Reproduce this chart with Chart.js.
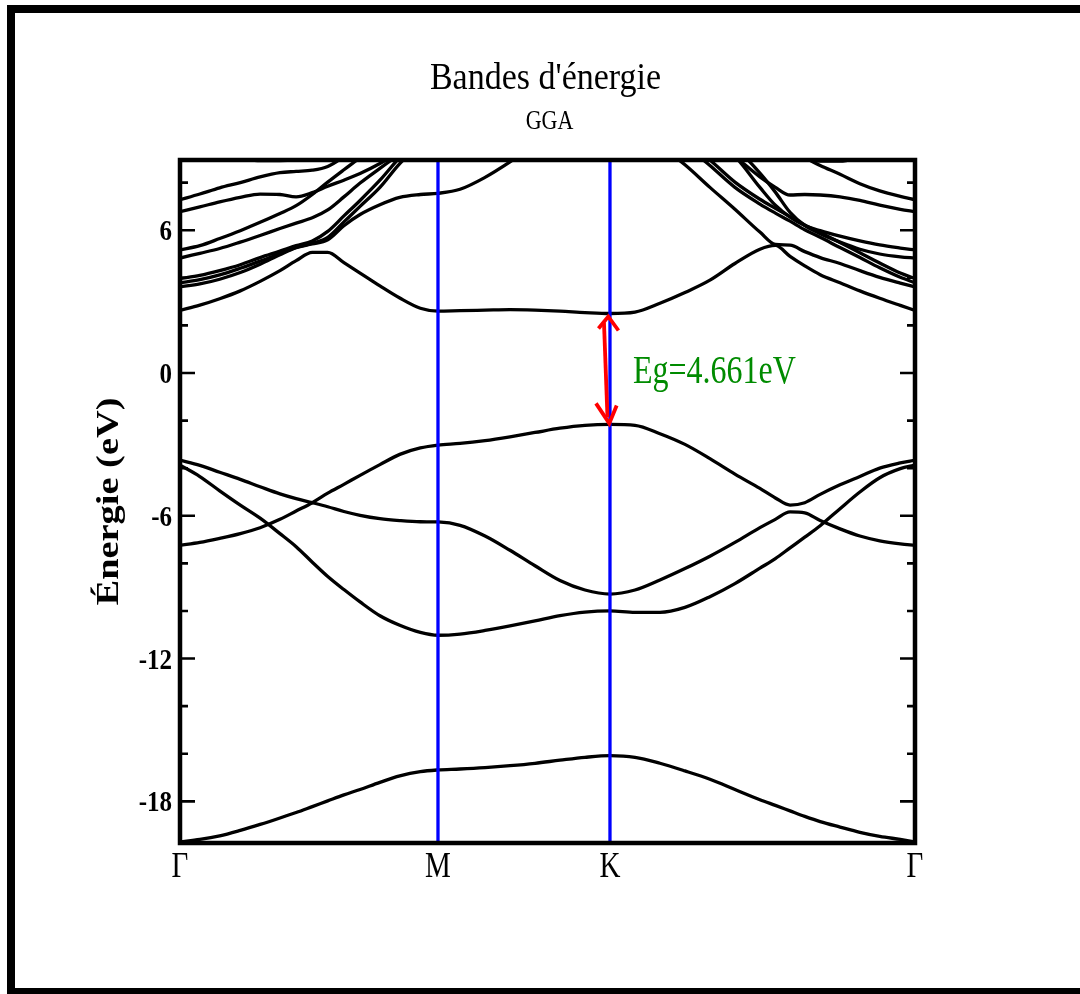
<!DOCTYPE html>
<html>
<head>
<meta charset="utf-8">
<title>Bandes d'énergie</title>
<script src="https://cdn.jsdelivr.net/npm/chart.js@4.4.1/dist/chart.umd.min.js"></script>
<style>
  html, body { margin: 0; padding: 0; background: #fff; }
  #wrap { width: 1080px; height: 994px; }
</style>
</head>
<body>
<div id="wrap"><canvas id="bands" width="1080" height="994"></canvas></div>
<script>
// k-path Γ-M-K-Γ, normalised to [0, 1]
const kPath = [0, 0.027, 0.054, 0.082, 0.109, 0.136, 0.158, 0.180, 0.201, 0.223, 0.245, 0.272, 0.299, 0.327, 0.351,
               0.381, 0.415, 0.449, 0.483, 0.517, 0.551, 0.585,
               0.619, 0.653, 0.687, 0.721, 0.755, 0.789, 0.810, 0.830, 0.850, 0.871, 0.898, 0.925, 0.952, 0.980, 1];
const kTicks = [0, 0.351, 0.585, 1];
const kLabels = ['Γ', 'M', 'K', 'Γ'];
const yTicks = [-18, -12, -6, 0, 6];
const yMinorTicks = [-16, -14, -10, -8, -4, -2, 2, 4, 8];

// valence bands (eV)
const bandV1 = [-19.7, -19.6, -19.45, -19.22, -18.97, -18.7, -18.47, -18.22, -17.98, -17.73, -17.5, -17.2, -16.93, -16.75, -16.68,
                -16.64, -16.58, -16.5, -16.4, -16.27, -16.15, -16.08,
                -16.15, -16.4, -16.72, -17.07, -17.5, -17.93, -18.17, -18.4, -18.63, -18.85, -19.08, -19.3, -19.47, -19.6, -19.7];
const bandV2 = [-3.87, -4.35, -4.95, -5.55, -6.1, -6.75, -7.3, -7.95, -8.55, -9.1, -9.62, -10.2, -10.6, -10.9, -11.02,
                -10.97, -10.82, -10.63, -10.42, -10.2, -10.05, -10.0,
                -10.06, -10.06, -9.85, -9.4, -8.85, -8.2, -7.8, -7.35, -6.9, -6.42, -5.7, -5.0, -4.4, -4.02, -3.87];
const bandV3 = [-3.66, -3.88, -4.17, -4.47, -4.78, -5.08, -5.28, -5.45, -5.62, -5.82, -5.98, -6.12, -6.2, -6.25, -6.26,
                -6.4, -6.85, -7.45, -8.1, -8.72, -9.12, -9.29,
                -9.12, -8.7, -8.22, -7.7, -7.12, -6.5, -6.15, -5.84, -5.88, -6.2, -6.55, -6.85, -7.05, -7.18, -7.24];
const bandV4 = [-7.24, -7.12, -6.95, -6.75, -6.5, -6.15, -5.8, -5.45, -5.05, -4.68, -4.3, -3.85, -3.42, -3.15, -3.03,
                -2.96, -2.84, -2.68, -2.5, -2.32, -2.2, -2.161,
                -2.2, -2.55, -3.0, -3.6, -4.25, -4.85, -5.25, -5.55, -5.45, -5.1, -4.7, -4.35, -4.0, -3.78, -3.66];

// conduction bands (eV)
const bandC1 = [2.63, 2.85, 3.12, 3.45, 3.85, 4.3, 4.72, 5.07, 5.07, 4.64, 4.2, 3.66, 3.15, 2.72, 2.6,
                2.62, 2.64, 2.66, 2.64, 2.6, 2.54, 2.5,
                2.56, 2.93, 3.38, 3.9, 4.6, 5.2, 5.36, 4.9, 4.5, 4.13, 3.79, 3.45, 3.14, 2.84, 2.63];
const bandC2 = [3.62, 3.74, 3.94, 4.22, 4.57, 4.97, 5.27, 5.42, 5.6, 6.19, 6.66, 7.07, 7.38, 7.5, 7.55,
                7.72, 8.22, 8.87, 9.6, 10.3, 11.0, 11.4,
                10.5, 9.55, 8.75, 7.8, 6.88, 5.92, 5.4, 5.37, 5.1, 4.85, 4.6, 4.3, 4.02, 3.78, 3.62];
const bandC3 = [3.79, 3.92, 4.12, 4.4, 4.7, 5.02, 5.28, 5.45, 5.7, 6.35, 7.0, 7.8, 8.8, 9.6, 10.2,
                11.0, 11.8, 12.4, 12.8, 13.0, 12.9, 12.6,
                11.6, 10.7, 9.6, 8.72, 7.8, 7.1, 6.72, 6.38, 6.02, 5.7, 5.27, 4.85, 4.42, 4.02, 3.79];
const bandC4 = [3.97, 4.1, 4.3, 4.55, 4.85, 5.12, 5.35, 5.55, 5.95, 6.6, 7.25, 8.1, 9.05, 9.8, 10.5,
                11.3, 12.0, 12.6, 13.0, 13.2, 13.1, 12.8,
                12.0, 11.0, 9.8, 8.95, 8.02, 7.3, 6.92, 6.57, 6.22, 5.9, 5.48, 5.05, 4.62, 4.2, 3.97];
const bandC5 = [4.83, 5.03, 5.23, 5.5, 5.78, 6.07, 6.3, 6.52, 6.85, 7.4, 7.98, 8.6, 9.2, 9.8, 10.3,
                11.0, 11.8, 12.5, 13.0, 13.3, 13.0, 12.5,
                12.0, 11.5, 11.0, 10.3, 9.5, 8.4, 7.6, 6.75, 6.2, 5.85, 5.5, 5.2, 5.0, 4.88, 4.83];
const bandC6 = [5.17, 5.35, 5.65, 5.98, 6.33, 6.7, 7.03, 7.5, 8.02, 8.54, 9.05, 9.7, 10.3, 10.8, 11.1,
                11.6, 12.2, 12.8, 13.3, 13.5, 13.2, 12.8,
                12.2, 11.4, 10.6, 9.9, 9.1, 7.8, 7.05, 6.55, 6.2, 5.98, 5.75, 5.55, 5.38, 5.25, 5.17];
const bandC7 = [6.78, 6.98, 7.19, 7.38, 7.52, 7.5, 7.4, 7.58, 7.85, 8.1, 8.38, 8.8, 9.3, 9.8, 10.1,
                10.6, 11.3, 12.0, 12.6, 12.9, 12.7, 12.4,
                12.0, 11.4, 10.7, 9.9, 9.1, 8.24, 7.8, 7.48, 7.5, 7.48, 7.4, 7.25, 7.05, 6.88, 6.78];
const bandC8 = [7.28, 7.52, 7.78, 8.0, 8.24, 8.42, 8.47, 8.52, 8.68, 9.1, 9.7, 10.4, 11.0, 11.5, 11.8,
                12.2, 12.8, 13.4, 13.9, 14.2, 14.0, 13.8,
                13.4, 12.9, 12.4, 11.8, 11.1, 10.3, 9.8, 9.35, 9.05, 8.72, 8.35, 7.95, 7.65, 7.42, 7.28];
const bandC9 = [9.6, 9.4, 9.2, 9.05, 8.92, 8.92, 9.0, 9.2, 9.5, 9.9, 10.3, 10.8, 11.3, 11.8, 12.0,
                12.5, 13.2, 13.8, 14.3, 14.6, 14.4, 14.2,
                13.8, 13.3, 12.6, 11.9, 11.0, 10.2, 9.7, 9.3, 9.0, 8.9, 8.9, 9.05, 9.25, 9.45, 9.6];

const bands = [bandV1, bandV2, bandV3, bandV4, bandC1, bandC2, bandC3, bandC4, bandC5, bandC6, bandC7, bandC8, bandC9];

// gap at K, between the top valence band and the bottom conduction band
const iK = kPath.indexOf(kTicks[2]);
const vbm = bandV4[iK];
const cbm = bandC1[iK];
const gap = cbm - vbm;

const SERIF = '"Liberation Serif", "DejaVu Serif", serif';

// text drawn with a vertical stretch (tall, narrow glyphs)
function tallText(ctx, str, x, y, size, weight, sy, align, color) {
  ctx.save();
  ctx.translate(x, y);
  ctx.scale(1, sy);
  ctx.font = weight + ' ' + size + 'px ' + SERIF;
  ctx.fillStyle = color || '#000';
  ctx.textAlign = align;
  ctx.textBaseline = 'alphabetic';
  ctx.fillText(str, 0, 0);
  ctx.restore();
}

const decor = {
  id: 'decor',
  afterDatasetsDraw(chart) {
    const ctx = chart.ctx;
    const area = chart.chartArea;
    const xs = chart.scales.x;
    const ys = chart.scales.y;

    ctx.save();
    // high-symmetry lines
    ctx.strokeStyle = '#0000ff';
    ctx.lineWidth = 3.3;
    kTicks.forEach(k => {
      if (k <= 0 || k >= 1) return;
      const px = xs.getPixelForValue(k);
      ctx.beginPath();
      ctx.moveTo(px, area.top);
      ctx.lineTo(px, area.bottom);
      ctx.stroke();
    });

    // gap arrow at K
    const xK = xs.getPixelForValue(kTicks[2]);
    const yTop = ys.getPixelForValue(cbm) + 3;
    const yBot = ys.getPixelForValue(vbm) - 1;
    ctx.strokeStyle = '#ff0000';
    ctx.lineWidth = 3.8;
    ctx.lineJoin = 'miter';
    ctx.beginPath();
    ctx.moveTo(xK - 6, yTop + 6);
    ctx.lineTo(xK - 2.5, yBot - 6);
    ctx.stroke();
    ctx.beginPath();
    ctx.moveTo(xK - 11.5, yTop + 12);
    ctx.lineTo(xK - 1.7, yTop);
    ctx.lineTo(xK + 8.5, yTop + 14);
    ctx.moveTo(xK - 14, yBot - 20);
    ctx.lineTo(xK - 0.7, yBot);
    ctx.lineTo(xK + 6.7, yBot - 18);
    ctx.stroke();

    // frame of the plot
    ctx.strokeStyle = '#000';
    ctx.lineWidth = 4.5;
    ctx.strokeRect(area.left, area.top, area.right - area.left, area.bottom - area.top);

    // inward ticks on both sides
    ctx.lineWidth = 2.6;
    const drawTick = (v, len) => {
      const py = ys.getPixelForValue(v);
      ctx.beginPath();
      ctx.moveTo(area.left, py);
      ctx.lineTo(area.left + len, py);
      ctx.moveTo(area.right, py);
      ctx.lineTo(area.right - len, py);
      ctx.stroke();
    };
    yTicks.forEach(v => drawTick(v, 15));
    yMinorTicks.forEach(v => drawTick(v, 8));

    // outer page border
    ctx.lineWidth = 8;
    ctx.strokeRect(11, 9, 1100, 983);

    // labels
    const cx = (area.left + area.right) / 2;
    tallText(ctx, "Bandes d'énergie", cx - 2, 89, 34, 'normal', 1.12, 'center');
    tallText(ctx, 'GGA', cx + 2, 128.5, 22, 'normal', 1.25, 'center');
    yTicks.forEach(v => {
      tallText(ctx, String(v), area.left - 8, ys.getPixelForValue(v) + 10, 25, 'bold', 1.2, 'right');
    });
    kTicks.forEach((k, i) => {
      tallText(ctx, kLabels[i], xs.getPixelForValue(k), 877, 29, 'normal', 1.25, 'center');
    });

    const yMid = ys.getPixelForValue((cbm + vbm) / 2);
    tallText(ctx, 'Eg=' + gap.toFixed(3) + 'eV', xK + 23, yMid + 14.5, 32, 'normal', 1.25, 'left', '#008b00');

    // axis title, rotated
    ctx.save();
    ctx.translate(110, (area.top + area.bottom) / 2);
    ctx.rotate(-Math.PI / 2);
    ctx.scale(1.2, 1);
    ctx.font = 'bold 32px ' + SERIF;
    ctx.fillStyle = '#000';
    ctx.textAlign = 'center';
    ctx.textBaseline = 'middle';
    ctx.fillText('Énergie (eV)', 0, 0);
    ctx.restore();

    ctx.restore();
  }
};

new Chart(document.getElementById('bands'), {
  type: 'line',
  data: {
    datasets: bands.map(b => ({
      data: kPath.map((k, i) => ({ x: k, y: b[i] })),
      borderColor: '#000',
      borderWidth: 3.3,
      pointRadius: 0,
      fill: false,
      cubicInterpolationMode: 'monotone',
      borderJoinStyle: 'round'
    }))
  },
  options: {
    responsive: false,
    animation: false,
    devicePixelRatio: 1,
    layout: { padding: { left: 180, right: 165, top: 160, bottom: 151 } },
    plugins: {
      legend: { display: false },
      tooltip: { enabled: false },
      title: { display: false }
    },
    scales: {
      x: { type: 'linear', min: 0, max: 1, display: false },
      y: { type: 'linear', min: -19.75, max: 8.95, display: false }
    }
  },
  plugins: [decor]
});
</script>
</body>
</html>
